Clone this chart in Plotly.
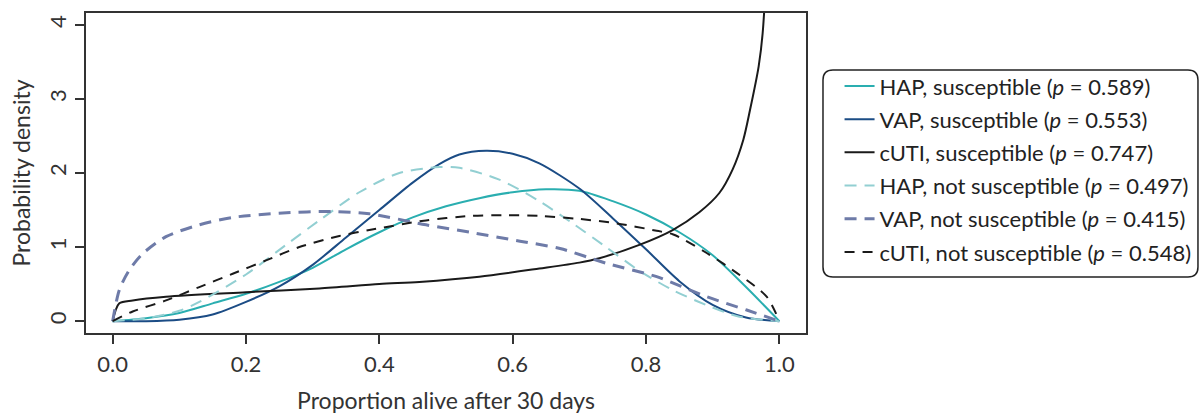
import plotly.graph_objects as go

# ---- data ----
hap_s_x = [0, 0.05, 0.1, 0.15, 0.2, 0.25, 0.3, 0.35, 0.4, 0.45, 0.5, 0.55, 0.6, 0.65, 0.7, 0.75, 0.8, 0.85, 0.9, 0.95, 1.0]
hap_s_y = [0, 0.04, 0.11, 0.24, 0.37, 0.53, 0.72, 0.97, 1.20, 1.40, 1.55, 1.66, 1.74, 1.78, 1.76, 1.62, 1.44, 1.20, 0.89, 0.46, 0]

vap_s_x = [0, 0.05, 0.1, 0.15, 0.2, 0.25, 0.3, 0.35, 0.4, 0.45, 0.49, 0.52, 0.56, 0.6, 0.64, 0.7, 0.75, 0.8, 0.85, 0.9, 0.95, 1.0]
vap_s_y = [0, 0.0, 0.02, 0.09, 0.26, 0.47, 0.76, 1.13, 1.50, 1.87, 2.12, 2.25, 2.30, 2.26, 2.13, 1.79, 1.39, 0.97, 0.54, 0.22, 0.05, 0]

cuti_s_x = [0, 0.01, 0.03, 0.08, 0.2, 0.31, 0.4, 0.46, 0.55, 0.64, 0.7, 0.73, 0.79, 0.84, 0.88, 0.91, 0.93, 0.946, 0.956, 0.969, 0.975, 0.985]
cuti_s_y = [0, 0.24, 0.28, 0.33, 0.39, 0.44, 0.50, 0.53, 0.60, 0.71, 0.79, 0.85, 1.03, 1.23, 1.47, 1.73, 2.05, 2.45, 2.85, 3.44, 3.89, 5.5]

hap_n_x = [0, 0.05, 0.1, 0.13, 0.2, 0.26, 0.31, 0.37, 0.43, 0.49, 0.52, 0.58, 0.64, 0.69, 0.74, 0.79, 0.84, 0.89, 0.94, 1.0]
hap_n_y = [0, 0.04, 0.14, 0.26, 0.63, 1.03, 1.36, 1.74, 2.00, 2.08, 2.07, 1.91, 1.62, 1.32, 1.00, 0.68, 0.42, 0.22, 0.06, 0]

vap_n_x = [0, 0.01, 0.025, 0.045, 0.08, 0.13, 0.18, 0.255, 0.33, 0.385, 0.47, 0.536, 0.611, 0.671, 0.741, 0.816, 0.891, 0.951, 1.0]
vap_n_y = [0, 0.42, 0.69, 0.91, 1.14, 1.30, 1.40, 1.46, 1.48, 1.45, 1.30, 1.20, 1.08, 0.98, 0.78, 0.60, 0.33, 0.15, 0]

cuti_n_x = [0, 0.03, 0.08, 0.13, 0.18, 0.23, 0.28, 0.34, 0.385, 0.47, 0.536, 0.586, 0.641, 0.7, 0.756, 0.816, 0.841, 0.891, 0.941, 0.981, 1.0]
cuti_n_y = [0, 0.13, 0.28, 0.46, 0.64, 0.82, 1.00, 1.15, 1.23, 1.36, 1.42, 1.43, 1.42, 1.38, 1.32, 1.22, 1.17, 0.92, 0.62, 0.33, 0]

names = [
    "HAP, susceptible (<i>p</i> = 0.589)",
    "VAP, susceptible (<i>p</i> = 0.553)",
    "cUTI, susceptible (<i>p</i> = 0.747)",
    "HAP, not susceptible (<i>p</i> = 0.497)",
    "VAP, not susceptible (<i>p</i> = 0.415)",
    "cUTI, not susceptible (<i>p</i> = 0.548)",
]
x_ticks = [0.0, 0.2, 0.4, 0.6, 0.8, 1.0]
x_tick_labels = ["0.0", "0.2", "0.4", "0.6", "0.8", "1.0"]
y_ticks = [0, 1, 2, 3, 4]

series = [
    (hap_s_x, hap_s_y, "#2AAEB0", 2, "solid"),
    (vap_s_x, vap_s_y, "#1B4C85", 2, "solid"),
    (cuti_s_x, cuti_s_y, "#1A1A1A", 2, "solid"),
    (hap_n_x, hap_n_y, "#92CFD2", 2, "12px,8px"),
    (vap_n_x, vap_n_y, "#6E7BA8", 3, "12px,8px"),
    (cuti_n_x, cuti_n_y, "#1A1A1A", 2, "10px,8px"),
]

fig = go.Figure()
for i, (xs, ys, col, w, dash) in enumerate(series):
    fig.add_trace(go.Scatter(
        x=xs, y=ys, mode="lines", name=names[i], legendgroup=f"g{i}",
        line=dict(color=col, width=w, dash=dash, shape="spline", smoothing=0.8),
    ))

FONT = "Lato, 'Open Sans', sans-serif"
fig.update_layout(
    width=1200, height=414,
    margin=dict(l=86, r=394, t=13, b=81, autoexpand=False),
    paper_bgcolor="white", plot_bgcolor="white",
    font=dict(family=FONT, size=22, color="#333333"),
    showlegend=True,
    legend=dict(
        x=1.0236 + 0.023, y=0.837, xanchor="left", yanchor="top",
        font=dict(family=FONT, size=22, color="#222222"),
        tracegroupgap=1.6, traceorder="grouped",
        bgcolor="rgba(0,0,0,0)",
    ),
    xaxis=dict(
        range=[-0.04, 1.04], tickvals=x_ticks, ticktext=x_tick_labels,
        showgrid=False, zeroline=False, showline=True, mirror=True,
        linecolor="#333333", linewidth=2, automargin=False,
        ticks="outside", ticklen=9, tickwidth=1.5, tickcolor="#333333",
        ticklabelstandoff=2,
        tickfont=dict(family=FONT, size=22, color="#333333"),
        title=dict(text="Proportion alive after 30 days", standoff=17,
                   font=dict(family=FONT, size=23, color="#333333")),
    ),
    yaxis=dict(
        range=[-0.16, 4.16], tickvals=y_ticks,
        showgrid=False, zeroline=False, showline=True, mirror=True,
        linecolor="#333333", linewidth=2, automargin=False,
        ticks="outside", ticklen=9, tickwidth=1.5, tickcolor="#333333",
        tickangle=-90, ticklabelstandoff=0,
        tickfont=dict(family=FONT, size=22, color="#333333"),
        title=dict(text="Probability density", standoff=7,
                   font=dict(family=FONT, size=23, color="#333333")),
    ),
)

# rounded legend frame
x0, x1 = 1.0236, 1.5444
y0, y1 = 0.175, 0.8219
rx, ry = 10 / 720, 10 / 320
path = (f"M{x0+rx},{y1} L{x1-rx},{y1} Q{x1},{y1} {x1},{y1-ry} "
        f"L{x1},{y0+ry} Q{x1},{y0} {x1-rx},{y0} "
        f"L{x0+rx},{y0} Q{x0},{y0} {x0},{y0+ry} "
        f"L{x0},{y1-ry} Q{x0},{y1} {x0+rx},{y1} Z")
fig.add_shape(type="path", path=path, xref="paper", yref="paper",
              line=dict(color="#222222", width=1.5), fillcolor="rgba(0,0,0,0)")

fig.write_html("out.html", config={"displayModeBar": False},
               post_script="document.body.style.margin='0';")
